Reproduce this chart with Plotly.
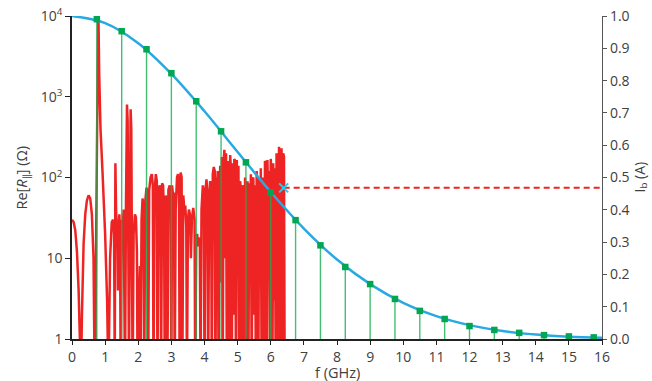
import plotly.graph_objects as go

# ---------------- data ----------------
# Impedance Re[R_par] (Ohm) vs frequency (GHz); values below 1 fall off the axis
red_f = [0.00, 0.05, 0.10, 0.15, 0.20, 0.25, 0.27, 0.30, 0.35, 0.40, 0.45, 0.50, 0.55, 0.60, 0.65, 0.68, 0.70,
         0.73, 0.76, 0.78, 0.79, 0.80, 0.82, 0.86, 0.92, 1.00, 1.06, 1.10,
         1.15, 1.20, 1.24, 1.27, 1.29, 1.31, 1.33, 1.35, 1.37, 1.39, 1.41, 1.43, 1.45, 1.47, 1.50, 1.53, 1.56,
         1.58, 1.60, 1.63, 1.66, 1.68, 1.70, 1.72, 1.74, 1.77, 1.79, 1.81, 1.83,
         1.86, 1.90, 1.93, 1.96, 1.98, 2.00, 2.03, 2.05, 2.07, 2.10, 2.13, 2.16, 2.18,
         2.21, 2.25, 2.28, 2.30, 2.33, 2.37, 2.41, 2.44, 2.46, 2.49, 2.53, 2.56, 2.58, 2.61, 2.64, 2.67, 2.69,
         2.72, 2.75, 2.78, 2.80, 2.83, 2.86, 2.88, 2.91, 2.95, 2.98, 3.00, 3.02, 3.05, 3.08, 3.10, 3.13, 3.17,
         3.20, 3.23, 3.25, 3.28, 3.31,
         3.33, 3.36, 3.39, 3.42, 3.45, 3.47, 3.50, 3.53, 3.56, 3.59, 3.62, 3.66, 3.70, 3.72, 3.75, 3.78, 3.80,
         3.83, 3.86, 3.88, 3.91, 3.95, 3.98, 4.00, 4.03, 4.06, 4.09, 4.11, 4.14, 4.17, 4.20, 4.22, 4.25, 4.28,
         4.31, 4.33, 4.36, 4.38,
         4.40, 4.425, 4.45, 4.475, 4.50, 4.525, 4.55, 4.575, 4.60, 4.625, 4.65, 4.675, 4.70, 4.725, 4.75, 4.775,
         4.80, 4.825, 4.85, 4.875, 4.90, 4.925, 4.95, 4.975, 5.00, 5.025, 5.05, 5.075, 5.10, 5.125, 5.15, 5.175,
         5.20, 5.225, 5.25, 5.275, 5.30, 5.325, 5.35, 5.375, 5.40, 5.425, 5.45, 5.475, 5.50, 5.525, 5.55, 5.575,
         5.60, 5.625, 5.65, 5.675, 5.70, 5.725, 5.75, 5.775, 5.80, 5.825, 5.85, 5.875, 5.90, 5.925, 5.95, 5.975,
         6.00, 6.025, 6.05, 6.075, 6.10, 6.125, 6.15, 6.175, 6.20, 6.225, 6.25, 6.275, 6.30, 6.325, 6.35, 6.375,
         6.40, 6.42]
red_v = [30, 28, 22, 12, 4, 0.5, 0.3, 2, 15, 35, 52, 60, 55, 35, 10, 0.5, 0.3,
         20, 400, 3000, 10000, 9000, 2000, 400, 120, 20, 3, 0.3,
         10, 28, 30, 20, 0.5, 150, 40, 25, 30, 4, 25, 35, 20, 0.3, 30, 25, 40,
         3, 0.3, 50, 800, 500, 3, 0.4, 10, 700, 400, 15, 0.3,
         20, 35, 32, 12, 0.3, 5, 4, 8, 0.4, 30, 55, 40, 0.3,
         50, 75, 60, 0.3, 70, 100, 110, 80, 0.3, 60, 110, 90, 0.3, 50, 80, 70, 0.4,
         85, 80, 30, 0.3, 60, 40, 0.3, 70, 80, 50, 0.3, 80, 60, 65, 0.3, 40, 100,
         110, 60, 0.3, 115, 100,
         0.3, 60, 40, 45, 25, 0.3, 30, 40, 35, 10, 30, 42, 30, 0.3, 15, 20, 14,
         18, 16, 0.3, 40, 80, 60, 0.3, 70, 95, 60, 0.3, 55, 90, 70, 0.3, 110, 135,
         120, 0.3, 100, 80,
         120, 0.3, 60, 140, 5, 180, 0.3, 150, 220, 10, 200, 0.3, 160, 80, 0.3, 190,
         120, 0.4, 150, 2, 170, 160, 0.3, 165, 30, 140, 0.3, 90, 70, 0.3, 80, 75,
         1, 100, 0.3, 60, 90, 0.3, 85, 20, 110, 0.3, 95, 100, 2, 80, 0.3, 120,
         60, 0.3, 100, 5, 130, 0.3, 90, 100, 0.3, 160, 150, 0.3, 165, 40, 120, 0.3,
         170, 100, 0.3, 150, 3, 130, 0.3, 200, 120, 0.3, 240, 100, 0.3, 230, 0.4, 200,
         180, 0.3]

# Bunch current I_b (A): smooth envelope and harmonic lines
ib_f = [0, 1, 2, 3, 4, 5, 6, 7, 8, 9, 10, 11, 12, 13, 14, 15, 16]
ib_v = [1.000, 0.978, 0.916, 0.821, 0.705, 0.579, 0.455, 0.342, 0.246, 0.170, 0.112,
        0.071, 0.043, 0.025, 0.014, 0.0073, 0.0037]

harm_f = [0.75, 1.50, 2.25, 3.00, 3.75, 4.50, 5.25, 6.00, 6.75, 7.50, 8.25, 9.00, 9.75,
          10.50, 11.25, 12.00, 12.75, 13.50, 14.25, 15.00, 15.75]
harm_v = [0.990, 0.953, 0.897, 0.823, 0.736, 0.643, 0.547, 0.454, 0.368, 0.290, 0.223,
          0.170, 0.124, 0.087, 0.062, 0.040, 0.028, 0.019, 0.012, 0.008, 0.005]

thr_f = [6.39, 16.0]
thr_v = [0.468, 0.468]

# ---------------- figure ----------------
FONT = "Open Sans"
TXT = "#404040"

fig = go.Figure()

fig.add_trace(go.Scatter(x=red_f, y=red_v, mode="lines",
                         line=dict(color="#ee2424", width=2.5), yaxis="y",
                         showlegend=False, hoverinfo="skip"))

stem_x, stem_y = [], []
for f, v in zip(harm_f, harm_v):
    stem_x += [f, f, None]
    stem_y += [0, v, None]
fig.add_trace(go.Scatter(x=stem_x, y=stem_y, mode="lines",
                         line=dict(color="rgba(20,175,80,0.8)", width=1.4),
                         yaxis="y2", showlegend=False, hoverinfo="skip"))

fig.add_trace(go.Scatter(x=ib_f, y=ib_v, mode="lines", line_shape="spline",
                         line=dict(color="#29a9e1", width=2.5), yaxis="y2",
                         showlegend=False))

fig.add_trace(go.Scatter(x=harm_f, y=harm_v, mode="markers",
                         marker=dict(symbol="square", size=6.5, color="#00a651"),
                         yaxis="y2", showlegend=False))

fig.add_trace(go.Scatter(x=thr_f, y=thr_v, mode="lines",
                         line=dict(color="#ee2424", width=2, dash="6px,4px"),
                         yaxis="y2", showlegend=False))
fig.add_trace(go.Scatter(x=thr_f[:1], y=thr_v[:1], mode="markers",
                         marker=dict(symbol="x-thin-open", size=9,
                                     line=dict(color="#7bb3dc", width=2)),
                         yaxis="y2", showlegend=False))

fig.update_layout(
    width=652, height=381,
    margin=dict(l=72, r=50, t=16, b=42, autoexpand=False),
    paper_bgcolor="white", plot_bgcolor="white",
    font=dict(family=FONT, size=14, color=TXT),
    xaxis=dict(range=[0, 16], tickmode="linear", tick0=0, dtick=1, automargin=False,
               showgrid=False, zeroline=False, showline=True, linecolor="#222",
               linewidth=1.5, ticks="outside", ticklen=4, tickcolor="#222"),
    yaxis=dict(type="log", range=[0, 4], automargin=False,
               tickvals=[1, 10, 100, 1000, 10000],
               ticktext=["1", "10", "10<sup>2</sup>", "10<sup>3</sup>", "10<sup>4</sup>"],
               showgrid=False, zeroline=False, showline=True, linecolor="#222",
               linewidth=1.5, ticks="outside", ticklen=5, tickcolor="#222"),
    yaxis2=dict(overlaying="y", side="right", range=[0, 1], tickmode="linear",
                tick0=0, dtick=0.1, tickformat=".1f", automargin=False,
                showgrid=False, zeroline=False, showline=True, linecolor="#555",
                linewidth=1.2, ticks="outside", ticklen=4, tickcolor="#555"),
    annotations=[
        dict(text="f (GHz)", xref="paper", yref="paper", x=0.5, y=0,
             xanchor="center", yanchor="top", yshift=-22, showarrow=False,
             font=dict(size=14.5)),
        dict(text="Re[<i>R</i><sub>∥</sub>] (Ω)", xref="paper", yref="paper",
             x=0, y=0.5, xanchor="center", yanchor="middle", xshift=-50,
             textangle=-90, showarrow=False, font=dict(size=14.5)),
        dict(text="I<sub>b</sub> (A)", xref="paper", yref="paper",
             x=1, y=0.5, xanchor="center", yanchor="middle", xshift=38,
             textangle=-90, showarrow=False, font=dict(size=14)),
    ],
)

fig.write_html("out.html", config={"displayModeBar": False},
               post_script="document.body.style.margin='0';document.body.style.overflow='hidden';")
